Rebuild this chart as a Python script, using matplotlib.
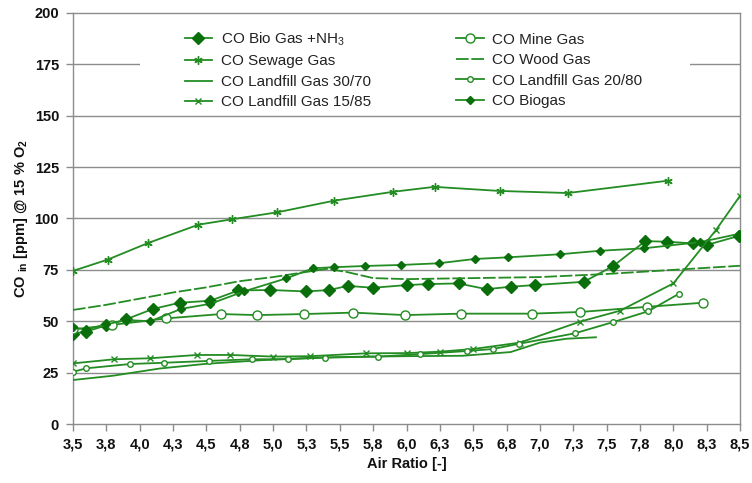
import matplotlib
matplotlib.use('Agg')
import matplotlib.pyplot as plt
from matplotlib.patches import Rectangle

# data
bio_nh3_x = [3.5, 3.6, 3.75, 3.9, 4.1, 4.3, 4.53, 4.74, 4.98, 5.25, 5.42, 5.56, 5.75, 6.0, 6.16, 6.39,
             6.6, 6.78, 6.96, 7.33, 7.55, 7.79, 7.95, 8.15, 8.25, 8.49]
bio_nh3_y = [44, 45, 48, 51, 56, 59, 60, 65, 65.2, 64.5, 65.2, 67.2, 66.3, 67.6, 68.1, 68.4,
             65.6, 66.8, 67.6, 69.2, 76.9, 89, 88.7, 87.9, 87.1, 91.5]

sewage_x = [3.5, 3.76, 4.06, 4.44, 4.69, 5.03, 5.46, 5.9, 6.21, 6.7, 7.21, 7.96]
sewage_y = [74.5, 80, 88, 97, 99.6, 103, 108.7, 113, 115.4, 113.4, 112.4, 118.4]

lf3070_x = [3.5, 3.8, 4.15, 4.5, 4.9, 5.3, 5.7, 6.0, 6.42, 6.78, 7.0, 7.2, 7.42]
lf3070_y = [21.4, 23.5, 27, 29.3, 31, 32.3, 32.8, 33, 33.2, 35, 39.6, 41.5, 42.2]

lf1585_x = [3.5, 3.81, 4.08, 4.43, 4.68, 5.0, 5.28, 5.7, 6.0, 6.25, 6.5, 6.85, 7.3, 7.6, 8.0, 8.32, 8.5]
lf1585_y = [29.5, 31.5, 32, 33.6, 33.6, 32.8, 33, 34.4, 34.5, 35.2, 36.5, 39.6, 49.8, 55.1, 68.4, 94.4, 111]

mine_x = [3.5, 3.79, 4.2, 4.61, 4.88, 5.23, 5.6, 5.99, 6.41, 6.94, 7.3, 7.8, 8.22]
mine_y = [46, 48.2, 51.4, 53.5, 53, 53.5, 54.2, 53, 53.7, 53.7, 54.5, 57, 59]

wood_x = [3.5, 3.75, 4.0, 4.25, 4.5, 4.75, 5.0, 5.2, 5.4, 5.55, 5.75, 6.0, 6.5, 7.0, 7.5, 8.0, 8.5]
wood_y = [55.5, 58, 61, 64, 66.5, 69.5, 71.5, 73.5, 75.5, 74, 71, 70.5, 71, 71.5, 73, 75, 77]

lf2080_x = [3.5, 3.6, 3.93, 4.18, 4.52, 4.84, 5.11, 5.39, 5.79, 6.1, 6.45, 6.65, 6.84, 7.26, 7.55, 7.81, 8.04]
lf2080_y = [25.4, 27.1, 29.2, 29.8, 30.7, 31.5, 31.5, 32.3, 32.8, 34, 35.5, 36.5, 39, 44.1, 49.6, 54.8, 63.3]

biogas_x = [3.5, 3.6, 3.75, 3.9, 4.08, 4.31, 4.53, 4.78, 5.1, 5.3, 5.46, 5.69, 5.96, 6.24, 6.51, 6.76,
            7.15, 7.45, 7.78, 8.2, 8.49]
biogas_y = [47, 46, 48.5, 50.6, 50, 56, 58.5, 64.5, 70.9, 75.8, 76.3, 76.9, 77.4, 78.2, 80.3, 81.1,
            82.6, 84.3, 85.5, 88.5, 92.5]

x_ticks = [3.5 + 0.25 * i for i in range(21)]
x_tick_labels = ['3,5', '3,8', '4,0', '4,3', '4,5', '4,8', '5,0', '5,3', '5,5', '5,8', '6,0',
                 '6,3', '6,5', '6,8', '7,0', '7,3', '7,5', '7,8', '8,0', '8,3', '8,5']
y_ticks = [0, 25, 50, 75, 100, 125, 150, 175, 200]

plt.rcParams['font.family'] = ['Liberation Sans', 'DejaVu Sans']
green = '#238c23'
dark = '#0a6e0a'
grid_c = '#8c8c8c'

fig = plt.figure(figsize=(7.52, 4.83), dpi=100)
ax = fig.add_axes([73 / 752, 1 - 424 / 483, 667 / 752, 411 / 483])

# grid lines (175 is hidden behind the legend box)
for yv in y_ticks[1:-1]:
    ax.axhline(yv, color=grid_c, lw=1.0, zorder=0.5)
ax.add_patch(Rectangle((0.1004, 0.77), 0.8246, 0.2, transform=ax.transAxes,
                       facecolor='white', edgecolor='none', zorder=1))

lw = 1.3
ax.plot(bio_nh3_x, bio_nh3_y, color=green, lw=lw, marker='D', ms=6, mfc=dark, mec=dark,
        label=r'CO Bio Gas +NH$\mathregular{_3}$', zorder=3)
ax.plot(sewage_x, sewage_y, color=green, lw=lw, marker=(6, 2, 0), ms=6, mec=green,
        label='CO Sewage Gas', zorder=3)
ax.plot(lf3070_x, lf3070_y, color=green, lw=lw, label='CO Landfill Gas 30/70', zorder=3)
ax.plot(lf1585_x, lf1585_y, color=green, lw=lw, marker='x', ms=4, mew=1,
        label='CO Landfill Gas 15/85', zorder=3)
ax.plot(mine_x, mine_y, color=green, lw=lw, marker='o', ms=6.5, mfc='white', mec=green, mew=1,
        label='CO Mine Gas', zorder=3)
ax.plot(wood_x, wood_y, color=green, lw=lw, dashes=(7, 1.5), label='CO Wood Gas', zorder=3)
ax.plot(lf2080_x, lf2080_y, color=green, lw=lw, marker='o', ms=4, mfc='white', mec=green, mew=1,
        label='CO Landfill Gas 20/80', zorder=3)
ax.plot(biogas_x, biogas_y, color=green, lw=lw, marker='D', ms=4.5, mfc=dark, mec=dark,
        label='CO Biogas', zorder=3)

ax.set_xlim(3.5, 8.5)
ax.set_ylim(0, 200)
ax.set_xticks(x_ticks)
ax.set_xticklabels(x_tick_labels)
ax.set_yticks(y_ticks)
ax.tick_params(axis='both', direction='out', length=5, width=1, color=grid_c,
               labelsize=10.5, labelcolor='#111111', pad=5)
for lab in ax.get_xticklabels() + ax.get_yticklabels():
    lab.set_fontweight('bold')
for sp in ax.spines.values():
    sp.set_color(grid_c)
    sp.set_linewidth(1.0)

ax.set_xlabel('Air Ratio [-]', fontsize=10.5, fontweight='bold', color='#111111', labelpad=4)
ax.set_ylabel(r'CO $\mathregular{_{in}}$ [ppm] @ 15 % O$\mathregular{_2}$', fontsize=10.5,
              fontweight='bold', color='#111111', labelpad=3)

leg = ax.legend(ncol=2, loc='upper left', bbox_to_anchor=(0.1675, 0.957), frameon=False,
                fontsize=11, borderpad=0, borderaxespad=0, handlelength=1.8,
                handletextpad=0.55, labelspacing=0.42, columnspacing=5.6)
for t in leg.get_texts():
    t.set_color('#222222')
leg.set_zorder(5)

fig.savefig('out.png', dpi=100)
